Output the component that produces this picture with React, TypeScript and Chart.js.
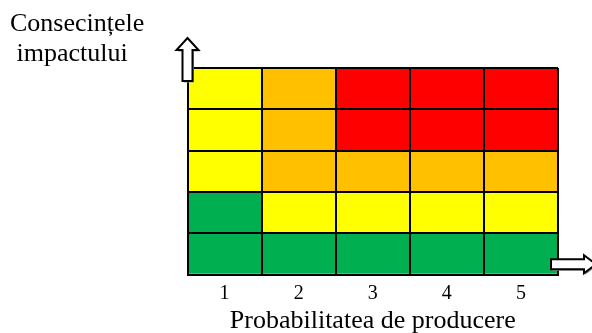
import React, { useEffect, useRef } from "react";
import { Chart, registerables } from "chart.js";

Chart.register(...registerables);

// Data
const probabilityLabels = ["1", "2", "3", "4", "5"];
const xAxisTitle = "Probabilitatea de producere";
const yAxisTitleLines = ["Consecințele", " impactului"];
// risk level per cell: rows from impact 1 (bottom) to impact 5 (top), columns = probability 1..5
const impact1 = [0, 0, 0, 0, 0];
const impact2 = [0, 1, 1, 1, 1];
const impact3 = [1, 2, 2, 2, 2];
const impact4 = [1, 2, 3, 3, 3];
const impact5 = [1, 2, 3, 3, 3];
const impactRows = [impact1, impact2, impact3, impact4, impact5];
// level colours: green, yellow, orange, red
const levelColors = ["#00B050", "#FFFF00", "#FFC000", "#FF0000"];

const FONT = "'Liberation Serif', 'Times New Roman', serif";

function arrowPath(ctx: CanvasRenderingContext2D, pts: number[][]) {
  ctx.beginPath();
  ctx.moveTo(pts[0][0], pts[0][1]);
  for (let i = 1; i < pts.length; i++) ctx.lineTo(pts[i][0], pts[i][1]);
  ctx.closePath();
}

function drawArrow(ctx: CanvasRenderingContext2D, pts: number[][]) {
  ctx.save();
  ctx.translate(1.5, 1.5);
  arrowPath(ctx, pts);
  ctx.fillStyle = "#9a9a9a";
  ctx.fill();
  ctx.restore();
  arrowPath(ctx, pts);
  ctx.fillStyle = "#ffffff";
  ctx.fill();
  ctx.lineWidth = 2;
  ctx.strokeStyle = "#000000";
  ctx.lineJoin = "miter";
  ctx.stroke();
}

const decorPlugin = {
  id: "decor",
  afterDraw(chart: any) {
    const ctx: CanvasRenderingContext2D = chart.ctx;
    const { left, top, right, bottom } = chart.chartArea;
    ctx.save();
    // vertical axis title
    ctx.fillStyle = "#000";
    ctx.font = `26px ${FONT}`;
    ctx.textBaseline = "alphabetic";
    ctx.textAlign = "left";
    ctx.fillText(yAxisTitleLines[0], 10, 31);
    ctx.fillText(yAxisTitleLines[1], 10, 61);
    // up arrow
    const cx = left;
    drawArrow(ctx, [
      [cx, top - 30],
      [cx + 11, top - 18],
      [cx + 5, top - 18],
      [cx + 5, top + 13],
      [cx - 5, top + 13],
      [cx - 5, top - 18],
      [cx - 11, top - 18],
    ]);
    // right arrow
    const cy = bottom - 10.3;
    const sx = right - 7;
    drawArrow(ctx, [
      [sx, cy - 5],
      [sx + 33, cy - 5],
      [sx + 33, cy - 9],
      [sx + 45, cy],
      [sx + 33, cy + 9],
      [sx + 33, cy + 5],
      [sx, cy + 5],
    ]);
    ctx.restore();
  },
};

export default function App() {
  const ref = useRef<HTMLCanvasElement | null>(null);
  useEffect(() => {
    document.body.style.margin = "0";
    if (!ref.current) return;
    const chart = new Chart(ref.current, {
      type: "bar",
      data: {
        labels: probabilityLabels,
        datasets: impactRows.map((row, i) => ({
          label: `Impact ${i + 1}`,
          data: row.map(() => 1),
          backgroundColor: row.map((lvl) => levelColors[lvl]),
          borderWidth: 0,
          barPercentage: 1,
          categoryPercentage: 1,
        })),
      },
      options: {
        animation: false,
        responsive: false,
        events: [],
        layout: { padding: { left: 187.5, right: 34, top: 68, bottom: 0 } },
        plugins: {
          legend: { display: false },
          tooltip: { enabled: false },
          title: { display: false },
        },
        scales: {
          x: {
            stacked: true,
            grid: { color: "#000", lineWidth: 2, offset: true, drawTicks: false, z: 1 },
            border: { display: true, color: "#000", width: 2, z: 2 },
            ticks: {
              color: "#000",
              font: { family: FONT, size: 20 },
              padding: 7,
            },
            title: {
              display: true,
              text: xAxisTitle,
              color: "#000",
              font: { family: FONT, size: 26, lineHeight: 1 },
              padding: { top: 0, bottom: -1.5 },
            },
            afterFit: (s: any) => {
              s.height = 58.5;
            },
          },
          y: {
            stacked: true,
            min: 0,
            max: 5,
            grid: { color: "#000", lineWidth: 2, drawTicks: false, z: 1 },
            border: { display: true, color: "#000", width: 2, z: 2 },
            ticks: { display: false, stepSize: 1 },
            afterFit: (s: any) => {
              s.width = 0;
            },
          },
        },
      },
      plugins: [decorPlugin],
    } as any);
    return () => chart.destroy();
  }, []);
  return (
    <div style={{ width: 592, height: 333 }}>
      <canvas ref={ref} width={592} height={333} style={{ display: "block" }} />
    </div>
  );
}
